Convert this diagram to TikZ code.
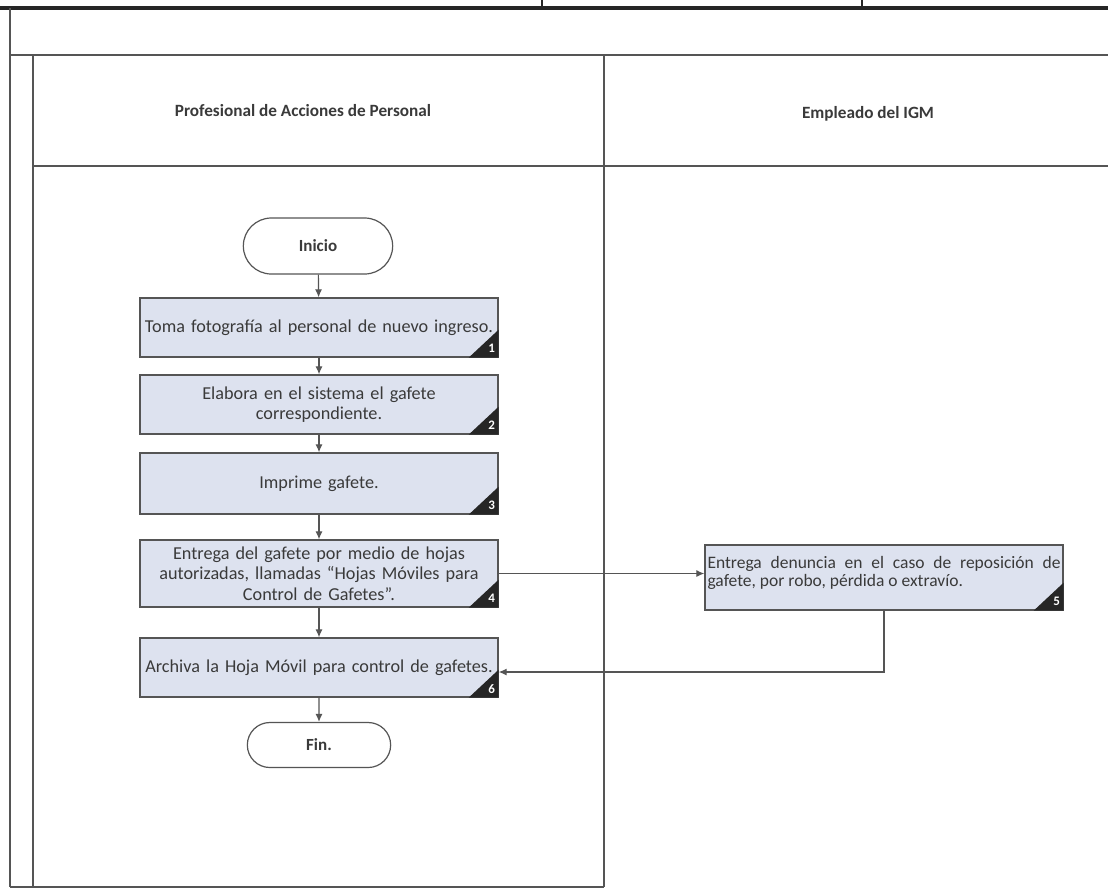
\documentclass[tikz,border=0pt]{standalone}
\usepackage{fontspec}
\setmainfont{Carlito}
\usetikzlibrary{arrows.meta,shapes.misc}
\definecolor{boxfill}{HTML}{DDE2EF}
\definecolor{linegray}{HTML}{555555}
\definecolor{txt}{HTML}{3A3A3A}
\tikzset{
  frame/.style={draw=linegray, line width=1.2pt},
  stepbox/.style={draw=linegray, line width=1.3pt, fill=boxfill, minimum width=358pt,
    text width=354pt, align=center, text=txt, inner sep=0pt,
    font=\fontsize{18.2}{20.5}\selectfont},
  term/.style={draw=linegray, line width=1.2pt, fill=white, rounded rectangle,
    text=txt, font=\fontsize{17}{20}\selectfont\bfseries},
  conn/.style={draw=linegray, line width=1.2pt, -{Latex[length=8pt,width=7pt]}},
  hdr/.style={text=txt, font=\fontsize{17.2}{20}\selectfont\bfseries},
  numtxt/.style={text=white, font=\fontsize{13}{14}\selectfont\bfseries, inner sep=0pt},
  plain/.style={text=txt, inner sep=0pt}
}
\newcommand{\corner}[2]{%
  \fill[black!85] (#1.south east) -- ++(-30,0) -- ++(30,-28) -- cycle;
  \node[numtxt] at ([shift={(-7,-9)}]#1.south east) {#2};}
\begin{document}
\begin{tikzpicture}[x=1pt,y=-1pt]
\useasboundingbox (0,0) rectangle (1108,895);
\fill[white] (0,0) rectangle (1108,895);
% frame
\draw[draw=black!85, line width=3.5pt] (0,8) -- (1108,8);
\draw[draw=black!85, line width=1.5pt] (542,0) -- (542,8);
\draw[draw=black!85, line width=1.5pt] (862,0) -- (862,8);
\draw[frame] (10,8) -- (10,887);
\draw[frame] (10,55) -- (1108,55);
\draw[frame] (33,55) -- (33,887);
\draw[frame] (33,166) -- (1108,166);
\draw[frame] (604,55) -- (604,887);
\draw[frame] (10,887) -- (604,887);
% headers
\node[hdr] (h1) at (303,111) {Profesional de Acciones de Personal};
\node[hdr] (h2) at (868,114) {Empleado del IGM};
% nodes
\node[term, minimum width=156pt, minimum height=56pt] (ini) at (318,246) {Inicio};
\node[stepbox, minimum height=59pt] (b1) at (319,327.5) {Toma fotografía al personal de nuevo ingreso.};
\node[stepbox, minimum height=59pt] (b2) at (319,404.5) {Elabora en el sistema el gafete\\correspondiente.};
\node[stepbox, minimum height=61pt] (b3) at (319,483.5) {Imprime gafete.};
\node[stepbox, minimum height=67pt] (b4) at (319,573.5) {Entrega del gafete por medio de hojas\\autorizadas, llamadas “Hojas Móviles para\\Control de Gafetes”.};
\node[stepbox, minimum height=59pt] (b6) at (319,667.5) {Archiva la Hoja Móvil para control de gafetes.};
\node[term, minimum width=150pt, minimum height=45pt] (fin) at (319,745) {Fin.};
\node[stepbox, minimum height=65pt] (b5) at (884,577.5) {};
\node[plain, text width=353pt, align=justify, anchor=north west,
  font=\fontsize{17.5}{17.5}\selectfont] (b5t) at ([shift={(3,12)}]b5.north west)
  {Entrega denuncia en el caso de reposición de gafete, por robo, pérdida o extravío.};
\corner{b1}{1}
\corner{b2}{2}
\corner{b3}{3}
\corner{b4}{4}
\corner{b5}{5}
\corner{b6}{6}
% connectors
\draw[conn] (ini) -- (b1);
\draw[conn] (b1) -- (b2);
\draw[conn] (b2) -- (b3);
\draw[conn] (b3) -- (b4);
\draw[conn] (b4) -- (b6);
\draw[conn] (b6) -- (fin);
\draw[conn] (b4.east) -- (b4.east -| b5.west);
\coordinate (ret) at (b5.south |- 0,672);
\draw[conn] (b5.south) -- (ret) -- (ret -| b6.east);
\end{tikzpicture}
\end{document}
